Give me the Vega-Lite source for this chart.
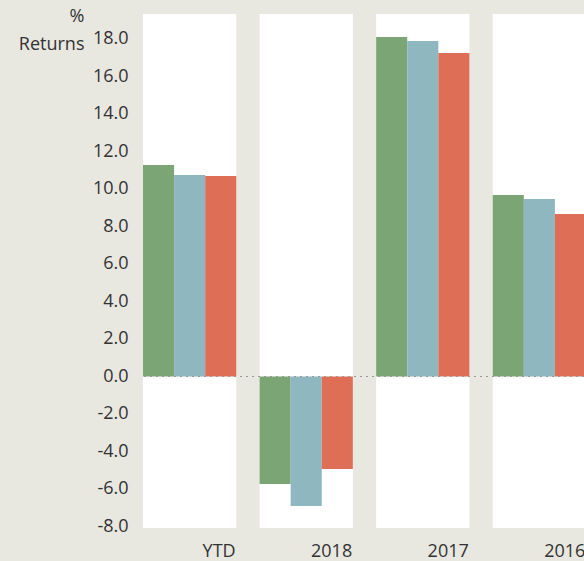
{
  "$schema": "https://vega.github.io/schema/vega-lite/v6.json",
  "width": 441,
  "height": 514,
  "autosize": {"type": "none"},
  "padding": {"left": 143, "top": 14, "right": 0, "bottom": 33},
  "background": "#E8E7E0",
  "config": {
    "view": {"stroke": null},
    "font": "Open Sans",
    "axisY": {
      "domain": false, "ticks": false, "tickSize": 0, "grid": false,
      "labelFontSize": 18, "labelColor": "#333333", "labelPadding": 15,
      "values": [-8, -6, -4, -2, 0, 2, 4, 6, 8, 10, 12, 14, 16, 18],
      "labelExpr": "(datum.value < 0 ? '-' : '') + format(abs(datum.value), '.1f')",
      "titleAngle": 0, "titleAlign": "right", "titleBaseline": "alphabetic",
      "titleX": -59, "titleY": 7, "titleFontSize": 18, "titleFontWeight": "normal",
      "titleColor": "#333333", "titleLineHeight": 28
    },
    "axisX": {
      "domain": false, "ticks": false, "tickSize": 0, "grid": false,
      "labelFontSize": 18, "labelColor": "#333333", "labelPadding": 14,
      "labelAngle": 0, "labelAlign": "right", "labelOffset": 46
    }
  },
  "datasets": {
    "panels": [{"group": "YTD"}, {"group": "2018"}, {"group": "2017"}, {"group": "2016"}],
    "returns": [
      {"group": "YTD", "series": "Series 1", "value": 11.28},
      {"group": "YTD", "series": "Series 2", "value": 10.75},
      {"group": "YTD", "series": "Series 3", "value": 10.69},
      {"group": "2018", "series": "Series 1", "value": -5.73},
      {"group": "2018", "series": "Series 2", "value": -6.91},
      {"group": "2018", "series": "Series 3", "value": -4.93},
      {"group": "2017", "series": "Series 1", "value": 18.11},
      {"group": "2017", "series": "Series 2", "value": 17.89},
      {"group": "2017", "series": "Series 3", "value": 17.25},
      {"group": "2016", "series": "Series 1", "value": 9.68},
      {"group": "2016", "series": "Series 2", "value": 9.47},
      {"group": "2016", "series": "Series 3", "value": 8.67}
    ]
  },
  "layer": [
    {
      "data": {"name": "panels"},
      "mark": {"type": "bar", "color": "#FFFFFF"},
      "encoding": {
        "x": {
          "field": "group", "type": "nominal", "title": null,
          "sort": ["YTD", "2018", "2017", "2016"],
          "scale": {"range": [0, 443], "paddingInner": 0.2, "paddingOuter": 0}
        },
        "y": {
          "datum": 19.33, "type": "quantitative", "title": ["%", "Returns"],
          "scale": {"domain": [-8.08, 19.33], "nice": false, "zero": false}
        },
        "y2": {"datum": -8.08}
      }
    },
    {
      "data": {"name": "returns"},
      "mark": {"type": "bar"},
      "encoding": {
        "x": {
          "field": "group", "type": "nominal", "title": null,
          "sort": ["YTD", "2018", "2017", "2016"]
        },
        "xOffset": {
          "field": "series", "type": "nominal",
          "sort": ["Series 1", "Series 2", "Series 3"],
          "scale": {"paddingInner": 0, "paddingOuter": 0}
        },
        "y": {"field": "value", "type": "quantitative", "title": ["%", "Returns"]},
        "color": {
          "field": "series", "type": "nominal", "legend": null,
          "scale": {"domain": ["Series 1", "Series 2", "Series 3"], "range": ["#7BA574", "#8EB7C0", "#DE6E55"]}
        }
      }
    },
    {
      "data": {"values": [{}]},
      "mark": {"type": "rule", "strokeDash": [2, 4], "color": "#9A9A9A", "strokeWidth": 1.2},
      "encoding": {
        "y": {"datum": 0, "type": "quantitative", "title": ["%", "Returns"]}
      }
    }
  ]
}
